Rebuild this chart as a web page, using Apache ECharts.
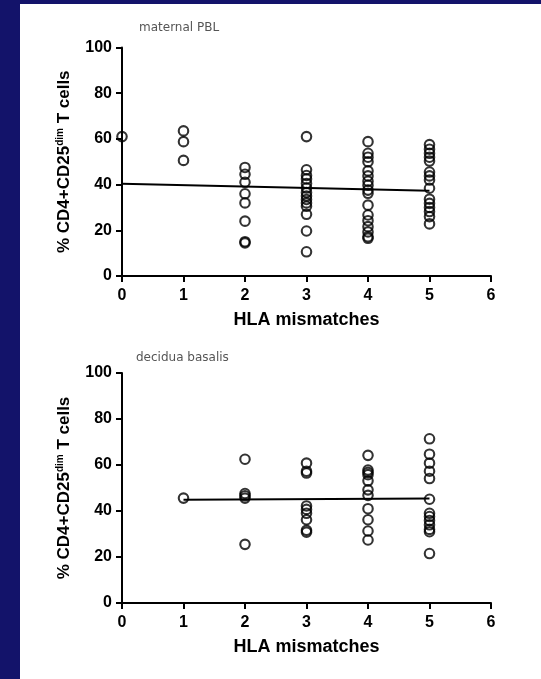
<!DOCTYPE html>
<html>
<head>
<meta charset="utf-8">
<script src="https://cdn.jsdelivr.net/npm/echarts@6/dist/echarts.min.js"></script>
<style>
body { margin: 0; background: #13136a; width: 541px; height: 679px; overflow: hidden; }
#main { position: absolute; left: 20px; top: 4px; width: 521px; height: 675px; background: #fff; }
</style>
</head>
<body>
<div id="main"></div>
<script>
// HLA mismatch categories (x axis)
var mismatches = [0, 1, 2, 3, 4, 5, 6];
var yTicks = [0, 20, 40, 60, 80, 100];

// % CD4+CD25dim T cells, one list per number of mismatches (index = mismatches)
var pbl = [
    [61],
    [63.5, 58.8, 50.6],
    [47.5, 44.5, 41, 36, 32, 24, 15, 14.5],
    [61, 46.5, 44, 42.5, 40.5, 38.5, 36.5, 35, 33.5, 32, 30.5, 27, 19.7, 10.6],
    [58.8, 53.7, 52, 50, 46, 43.8, 41.5, 39.7, 37.6, 36.2, 31, 26.7, 24.2, 21.6, 19.3, 17.2, 16.5],
    [57.5, 55.5, 53.7, 52, 50.3, 45.5, 43.8, 42, 38.4, 33.6, 31.8, 30, 28.2, 26, 22.8]
];
var decidua = [
    [],
    [45.6],
    [62.5, 47.6, 46.6, 45.6, 25.5],
    [60.8, 57.3, 56.5, 42.2, 40.7, 39, 36.2, 31.6, 30.8],
    [64.2, 57.8, 56.8, 55.8, 53.1, 49.2, 46.8, 41, 36.2, 31.3, 27.4],
    [71.4, 64.7, 60.8, 57.3, 54.1, 45.1, 39, 37.6, 35.9, 34, 32, 31, 21.5]
];

// regression lines (end points)
var pblFitX = [0, 5];
var pblFitY = [40.4, 37.3];
var decFitX = [1, 5];
var decFitY = [44.9, 45.4];

var panelTitles = ['maternal PBL', 'decidua basalis'];

function toPoints(groups) {
    var res = [];
    for (var i = 0; i < groups.length; i++) {
        for (var j = 0; j < groups[i].length; j++) {
            res.push([i, groups[i][j]]);
        }
    }
    return res;
}
function zip(xs, ys) {
    var res = [];
    for (var i = 0; i < xs.length; i++) res.push([xs[i], ys[i]]);
    return res;
}

var font = 'Liberation Sans, Arial, sans-serif';

function xAxisFor(idx) {
    return {
        gridIndex: idx,
        type: 'value',
        min: mismatches[0],
        max: mismatches[mismatches.length - 1],
        interval: 1,
        name: 'HLA mismatches',
        nameLocation: 'middle',
        nameGap: 35,
        nameTextStyle: { fontFamily: font, fontWeight: 'bold', fontSize: 18, color: '#000' },
        axisLine: { lineStyle: { color: '#000', width: 2 } },
        axisTick: { length: 6, lineStyle: { color: '#000', width: 2 } },
        axisLabel: { margin: 12, fontFamily: font, fontWeight: 'bold', fontSize: 16, color: '#000' },
        splitLine: { show: false }
    };
}
function yAxisFor(idx) {
    return {
        gridIndex: idx,
        type: 'value',
        min: yTicks[0],
        max: yTicks[yTicks.length - 1],
        interval: 20,
        name: '% CD4+CD25{sup|dim} T cells',
        nameLocation: 'middle',
        nameRotate: 90,
        nameGap: 48,
        nameTextStyle: {
            fontFamily: font, fontWeight: 'bold', fontSize: 17, color: '#000',
            rich: {
                sup: { fontFamily: font, fontWeight: 'bold', fontSize: 10, color: '#000', verticalAlign: 'top', padding: [0, 0, 9, 0] }
            }
        },
        axisLine: { onZero: false, lineStyle: { color: '#000', width: 2 } },
        axisTick: { length: 6, lineStyle: { color: '#000', width: 2 } },
        axisLabel: { margin: 10, fontFamily: font, fontWeight: 'bold', fontSize: 16, color: '#000' },
        splitLine: { show: false }
    };
}

var marker = {
    type: 'scatter',
    symbol: 'circle',
    symbolSize: 9.5,
    clip: false,
    itemStyle: { color: 'rgba(0,0,0,0)', borderColor: '#000', borderWidth: 2.1 },
    z: 3
};
var fitLine = {
    type: 'line',
    showSymbol: false,
    symbol: 'none',
    lineStyle: { color: '#000', width: 2 },
    z: 4
};

var myChart = echarts.init(document.getElementById('main'));
var option = {
    animation: false,
    title: [
        { text: panelTitles[0], left: 114, top: 13, textStyle: { fontFamily: 'DejaVu Sans', fontWeight: 'normal', fontSize: 12, color: '#555' } },
        { text: panelTitles[1], left: 111, top: 343, textStyle: { fontFamily: 'DejaVu Sans', fontWeight: 'normal', fontSize: 12, color: '#555' } }
    ],
    grid: [
        { left: 102, width: 369, top: 43.5, height: 228.5 },
        { left: 102, width: 369, top: 369, height: 230 }
    ],
    xAxis: [xAxisFor(0), xAxisFor(1)],
    yAxis: [yAxisFor(0), yAxisFor(1)],
    series: [
        Object.assign({}, marker, { xAxisIndex: 0, yAxisIndex: 0, data: toPoints(pbl) }),
        Object.assign({}, fitLine, { xAxisIndex: 0, yAxisIndex: 0, data: zip(pblFitX, pblFitY) }),
        Object.assign({}, marker, { xAxisIndex: 1, yAxisIndex: 1, data: toPoints(decidua) }),
        Object.assign({}, fitLine, { xAxisIndex: 1, yAxisIndex: 1, data: zip(decFitX, decFitY) })
    ]
};
myChart.setOption(option);
</script>
</body>
</html>
